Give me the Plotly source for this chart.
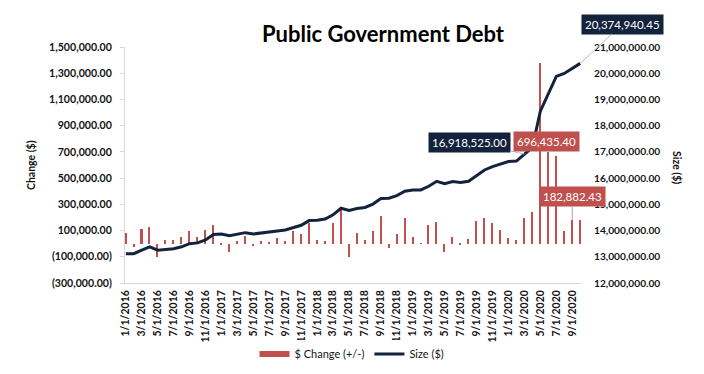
import plotly.graph_objects as go

months = [
    "1/1/2016", "2/1/2016", "3/1/2016", "4/1/2016", "5/1/2016", "6/1/2016",
    "7/1/2016", "8/1/2016", "9/1/2016", "10/1/2016", "11/1/2016", "12/1/2016",
    "1/1/2017", "2/1/2017", "3/1/2017", "4/1/2017", "5/1/2017", "6/1/2017",
    "7/1/2017", "8/1/2017", "9/1/2017", "10/1/2017", "11/1/2017", "12/1/2017",
    "1/1/2018", "2/1/2018", "3/1/2018", "4/1/2018", "5/1/2018", "6/1/2018",
    "7/1/2018", "8/1/2018", "9/1/2018", "10/1/2018", "11/1/2018", "12/1/2018",
    "1/1/2019", "2/1/2019", "3/1/2019", "4/1/2019", "5/1/2019", "6/1/2019",
    "7/1/2019", "8/1/2019", "9/1/2019", "10/1/2019", "11/1/2019", "12/1/2019",
    "1/1/2020", "2/1/2020", "3/1/2020", "4/1/2020", "5/1/2020", "6/1/2020",
    "7/1/2020", "8/1/2020", "9/1/2020", "10/1/2020",
]

change = [
    80000, -25000, 113000, 126000, -100000, 31000, 31000, 54000, 98000, 52000,
    108000, 141000, -8000, -65000, 23000, 62000, -20000, 23000, 15000, 46000,
    23000, 98000, 70000, 157000, 31000, 23000, 157000, 260000, -100000, 85000,
    31000, 98000, 209000, -33000, 70000, 193000, 54000, 5000, 139000, 162000,
    -60000, 54000, -10000, 33000, 172000, 193000, 155000, 107000, 46000, 31000,
    193000, 240000, 1376000, 696435.40, 665000, 93000, 182882.43, 178000,
]

size = [
    13120000, 13120000, 13250000, 13380000, 13250000, 13290000, 13310000, 13380000,
    13500000, 13530000, 13640000, 13850000, 13870000, 13800000, 13850000, 13920000,
    13870000, 13900000, 13940000, 13980000, 14020000, 14120000, 14200000, 14380000,
    14390000, 14440000, 14600000, 14850000, 14770000, 14840000, 14880000, 15010000,
    15220000, 15230000, 15330000, 15500000, 15550000, 15550000, 15690000, 15880000,
    15790000, 15870000, 15830000, 15880000, 16100000, 16310000, 16440000, 16540000,
    16630000, 16650000, 16918525.00, 17170000, 18550000, 19230000, 19880000, 19990000,
    20170000, 20374940.45,
]

left_ticks = [-300000, -100000, 100000, 300000, 500000, 700000, 900000, 1100000, 1300000, 1500000]
left_ticktext = ["(300,000.00)", "(100,000.00)", "100,000.00", "300,000.00", "500,000.00",
                 "700,000.00", "900,000.00", "1,100,000.00", "1,300,000.00", "1,500,000.00"]
right_ticks = [12000000, 13000000, 14000000, 15000000, 16000000, 17000000, 18000000,
               19000000, 20000000, 21000000]
right_ticktext = ["12,000,000.00", "13,000,000.00", "14,000,000.00", "15,000,000.00",
                  "16,000,000.00", "17,000,000.00", "18,000,000.00", "19,000,000.00",
                  "20,000,000.00", "21,000,000.00"]
x_ticks = months[::2]

RED = "#C0504D"
NAVY = "#14233C"
TXT = "#141414"
FONT = "Lato"

L, R, T, B = 125, 123, 47, 91
PW, PH = 704 - L - R, 374 - T - B

fig = go.Figure()
fig.add_trace(go.Bar(x=months, y=change, name="$ Change (+/-)", marker_color=RED,
                     marker_line_width=0, width=0.19, yaxis="y", showlegend=False))
# legend-only swatch imitating the wide rectangle key of the original
fig.add_trace(go.Scatter(x=[None], y=[None], name="$ Change (+/-)", mode="lines",
                         line=dict(color=RED, width=6), yaxis="y", showlegend=True))
fig.add_trace(go.Scatter(x=months, y=size, name="Size ($)", mode="lines",
                         line=dict(color=NAVY, width=3), yaxis="y2"))

def fmt(v):
    return f"{v:,.2f}"

annos = [
    dict(x=months[-1], y=size[-1], yref="y2", text=fmt(size[-1]), bgcolor=NAVY,
         showarrow=True, ax=42, ay=-39, arrowcolor="#BFBFBF", arrowwidth=1, arrowhead=0),
    dict(x=months[50], y=size[50], yref="y2", text=fmt(size[50]), bgcolor=NAVY,
         showarrow=True, ax=-55, ay=-12, arrowcolor="#BFBFBF", arrowwidth=1, arrowhead=0),
    dict(x=months[53], y=change[53], yref="y", text=fmt(change[53]), bgcolor=RED,
         showarrow=False, xshift=-2, yshift=11),
    dict(x=months[56], y=change[56], yref="y", text=fmt(change[56]), bgcolor=RED,
         showarrow=True, ax=0, ay=-23, arrowcolor="#A6A6A6", arrowwidth=1, arrowhead=0),
]
for a in annos:
    a.update(xref="x", font=dict(family=FONT, size=11.5, color="white"), borderpad=3)

annos += [
    dict(text="<b>Public Government Debt</b>", xref="paper", yref="paper",
         x=(383 - L) / PW, y=(374 - B - 34) / PH, showarrow=False,
         font=dict(family=FONT, size=22, color="black"), xanchor="center", yanchor="middle"),
    dict(text="<b>Change ($)</b>", xref="paper", yref="paper",
         x=(31 - L) / PW, y=(374 - B - 165) / PH, showarrow=False, textangle=-90,
         font=dict(family=FONT, size=10.5, color=TXT), xanchor="center", yanchor="middle"),
    dict(text="<b>Size ($)</b>", xref="paper", yref="paper",
         x=(677 - L) / PW, y=(374 - B - 167) / PH, showarrow=False, textangle=90,
         font=dict(family=FONT, size=10.5, color=TXT), xanchor="center", yanchor="middle"),
]

fig.update_layout(
    width=704, height=374,
    margin=dict(l=L, r=R, t=T, b=B, autoexpand=False),
    paper_bgcolor="white", plot_bgcolor="white",
    showlegend=True,
    legend=dict(orientation="h", x=0.5, xanchor="center", xref="container",
                y=1 - 354 / 374, yref="container",
                yanchor="middle", font=dict(family=FONT, size=11, color=TXT),
                itemwidth=30, tracegroupgap=0),
    annotations=annos,
    bargap=0,
    xaxis=dict(type="category", range=[-0.1, 57.1], tickvals=x_ticks, ticktext=x_ticks,
               tickangle=-90, tickfont=dict(family=FONT, size=10.5, color=TXT, weight="bold"),
               showline=True, linecolor="#D9D9D9", linewidth=1, ticks="", showgrid=False,
               zeroline=False, ticklabelstandoff=2, automargin=False),
    yaxis=dict(range=[-300000, 1500000], tickvals=left_ticks, ticktext=left_ticktext,
               tickfont=dict(family=FONT, size=10.6, color=TXT, weight="bold"),
               showline=True, linecolor="#D9D9D9", linewidth=1, ticks="outside",
               ticklen=4, tickcolor="#D9D9D9", showgrid=False, zeroline=False,
               ticklabelstandoff=6, automargin=False),
    yaxis2=dict(range=[12000000, 21000000], tickvals=right_ticks, ticktext=right_ticktext,
                overlaying="y", side="right",
                tickfont=dict(family=FONT, size=10.2, color=TXT, weight="bold"),
                showline=False, ticks="", showgrid=False, zeroline=False,
                ticklabelstandoff=12, automargin=False),
)

fig.write_html("out.html", config={"displayModeBar": False},
               post_script="document.body.style.margin='0';")
